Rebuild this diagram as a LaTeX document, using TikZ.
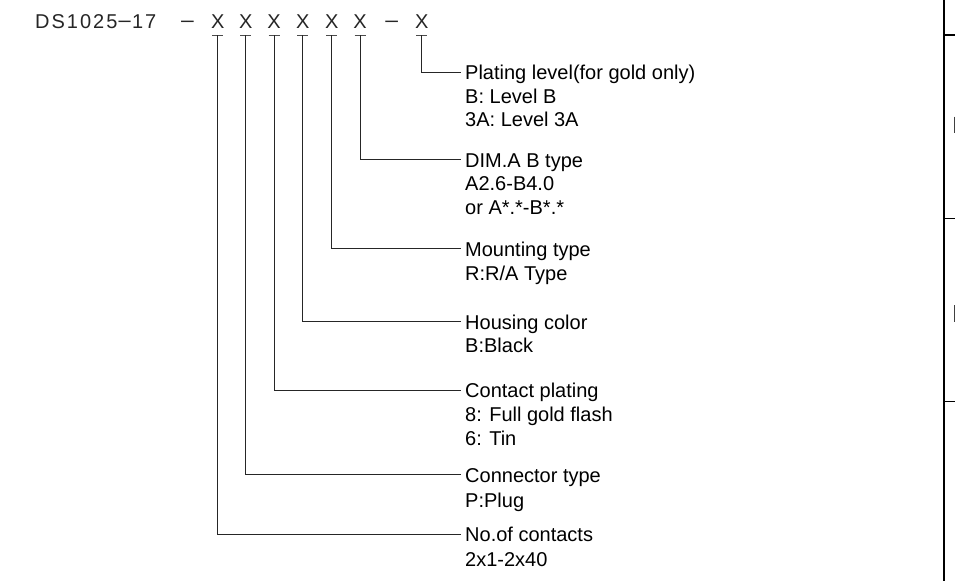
\documentclass[tikz,border=0pt]{standalone}
\usepackage{fontspec}
\setmainfont{Liberation Sans}
\newfontfamily\cadfont[LetterSpace=10]{Liberation Sans}
\newfontfamily\cadplain{Liberation Sans}
\begin{document}
\begin{tikzpicture}[x=1pt,y=-1pt]
\tikzset{
  cad/.style={font=\cadplain\fontsize{20}{20}\selectfont, text=black!85, inner sep=0pt, anchor=base},
  cadtitle/.style={font=\cadfont\fontsize{20}{20}\selectfont, text=black!85, inner sep=0pt, anchor=base west},
  head/.style={font=\fontsize{20}{24}\selectfont, anchor=base west, inner xsep=4pt, inner ysep=0pt, text height=14.3pt, text depth=0pt},
  detail/.style={font=\fontsize{20}{24}\selectfont, anchor=base west, inner sep=0pt},
  lead/.style={line width=0.8pt, black!85},
  tickmark/.style={line width=0.8pt, black!70},
  frame/.style={line width=1.3pt, black}
}
\useasboundingbox (0,0) rectangle (955,581);
\fill[white] (0,0) rectangle (955,581);

% title
\node[cadtitle] (title) at (35,28.5) {DS1025\scalebox{1.25}[1]{−}17};
\node[cad] (d1) at (187.5,28.5) {\scalebox{1.3}[1]{−}};
\node[cad] (d2) at (391.7,28.5) {\scalebox{1.3}[1]{−}};

% tick coordinates
\coordinate (c1) at (217.7,35);
\coordinate (c2) at (245.7,35);
\coordinate (c3) at (274,35);
\coordinate (c4) at (302.7,35);
\coordinate (c5) at (331.7,35);
\coordinate (c6) at (360,35);
\coordinate (c7) at (421.7,35);

\foreach \i in {1,...,7}{
  \node[cad] (x\i) at ([yshift=6.5pt]c\i) {X};
  \draw[tickmark] ([xshift=-5.5pt]c\i) -- ([xshift=5.5pt]c\i);
}

% labels
\node[head] (h1) at (461,79.5) {Plating level(for gold only)};
\node[detail] (h1a) at (465,103.2) {B: Level B};
\node[detail] (h1b) at (465,126.9) {3A: Level 3A};

\node[head] (h2) at (461,167) {DIM.A B type};
\node[detail] (h2a) at (465,190.5) {A2.6-B4.0};
\node[detail] (h2b) at (465,214.5) {or A*.*-B*.*};

\node[head] (h3) at (461,256) {Mounting type};
\node[detail] (h3a) at (465,280) {R:R/A Type};

\node[head] (h4) at (461,329) {Housing color};
\node[detail] (h4a) at (465,352.7) {B:Black};

\node[head] (h5) at (461,397.5) {Contact plating};
\node[detail] (h5a) at (465,421.7) {8: Full gold flash};
\node[detail] (h5b) at (465,445.7) {6: Tin};

\node[head] (h6) at (461,482) {Connector type};
\node[detail] (h6a) at (465,507) {P:Plug};

\node[head] (h7) at (461,541.7) {No.of contacts};
\node[detail] (h7a) at (465,566.7) {2x1-2x40};

% leaders
\draw[lead] (c7) |- (h1.west);
\draw[lead] (c6) |- (h2.west);
\draw[lead] (c5) |- (h3.west);
\draw[lead] (c4) |- (h4.west);
\draw[lead] (c3) |- (h5.west);
\draw[lead] (c2) |- (h6.west);
\draw[lead] (c1) |- (h7.west);

% right frame fragment
\coordinate (ft) at (944,0);
\coordinate (fb) at (944,581);
\draw[frame] (ft) -- (fb);
\coordinate (r1) at (944,35);
\coordinate (r2) at (944,218.3);
\coordinate (r3) at (944,401.7);
\foreach \r in {r1,r2,r3}{
  \draw[frame] (\r) -- ++(11,0);
}
\draw[line width=1.5pt, black!75] (954.3,116.7) -- (954.3,133.3);
\draw[line width=1.5pt, black!75] (954.3,305) -- (954.3,321.7);
\end{tikzpicture}
\end{document}
